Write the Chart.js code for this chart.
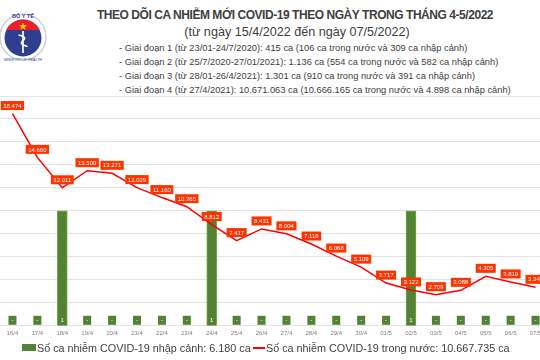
<html lang="vi">
<head>
  <meta charset="UTF-8">
  <title>Covid 4-5/2022</title>
  <script src="https://cdn.jsdelivr.net/npm/chart.js"></script>
  <style>
    body, html {
      margin: 0;
      padding: 0;
      width: 540px;
      height: 360px;
      overflow: hidden;
      background: #ffffff;
      font-family: "Liberation Sans", Arial, sans-serif;
      color: #404040;
    }
    #wrap { position: relative; width: 540px; height: 360px; overflow: hidden; }
    #myChart { position: absolute; left: 0; top: 0; }
    .title {
      position: absolute; left: 60px; width: 470px; text-align: center;
      top: 8px; font-size: 12px; font-weight: bold; letter-spacing: -0.45px; white-space: nowrap;
    }
    .subtitle {
      position: absolute; left: 60px; width: 474px; text-align: center;
      top: 25px; font-size: 12.6px; white-space: nowrap;
    }
    .phase {
      position: absolute; left: 119px; font-size: 9.3px; white-space: nowrap;
    }
    .legend {
      position: absolute; top: 342px; font-size: 10.8px; white-space: nowrap;
    }
    .legend span.box { display: inline-block; width: 14px; height: 7px; background: #548235; margin-right: 1px; vertical-align: 1px; }
    .legend span.ln { display: inline-block; width: 12px; height: 2px; background: #ff0000; margin-right: 1px; vertical-align: 3px; }
    #logo { position: absolute; left: 0px; top: 9px; }
  </style>
</head>
<body>
<div id="wrap">
  <svg id="logo" width="48" height="56" viewBox="0 0 48 56">
    <circle cx="23" cy="28" r="23" fill="#ffffff" stroke="#cfcfdc" stroke-width="1.5"/>
    <circle cx="23" cy="29" r="18.5" fill="#2f3f8f"/>
    <path d="M6.3 21 A18.5 18.5 0 0 1 39.7 21 Z" fill="#e8202a"/>
    <polygon points="23,13.5 24,16.3 27,16.3 24.6,18 25.5,20.8 23,19.1 20.5,20.8 21.4,18 19,16.3 22,16.3" fill="#ffd700"/>
    <line x1="23" y1="22" x2="23" y2="44" stroke="#ffffff" stroke-width="1.7"/>
    <path d="M18.5 26 Q28 28 23 31.5 Q18 35 27.5 37.5" fill="none" stroke="#ffffff" stroke-width="1.4"/>
    <text x="23" y="8.5" font-size="5.5" fill="#2f3f8f" text-anchor="middle" font-weight="bold">BỘ Y TẾ</text>
    <text x="23" y="52" font-size="3.6" fill="#2f3f8f" text-anchor="middle">MINISTRY OF HEALTH</text>
  </svg>
  <div class="title">THEO DÕI CA NHIỄM MỚI COVID-19 THEO NGÀY TRONG THÁNG 4-5/2022</div>
  <div class="subtitle">(từ ngày 15/4/2022 đến ngày 07/5/2022)</div>
  <div class="phase" style="top:43px">- Giai đoạn 1 (từ 23/01-24/7/2020): 415 ca (106 ca trong nước và 309 ca nhập cảnh)</div>
  <div class="phase" style="top:57px">- Giai đoạn 2 (từ 25/7/2020-27/01/2021): 1.136 ca (554 ca trong nước và 582 ca nhập cảnh)</div>
  <div class="phase" style="top:71px">- Giai đoạn 3 (từ 28/01-26/4/2021): 1.301 ca (910 ca trong nước và 391 ca nhập cảnh)</div>
  <div class="phase" style="top:85px">- Giai đoạn 4 (từ 27/4/2021): 10.671.063 ca (10.666.165 ca trong nước và 4.898 ca nhập cảnh)</div>

  <canvas id="myChart" width="548" height="360"></canvas>

  <div class="legend" style="left:22px"><span class="box"></span>Số ca nhiễm COVID-19 nhập cảnh: 6.180 ca</div>
  <div class="legend" style="left:253px"><span class="ln"></span>Số ca nhiễm COVID-19 trong nước: 10.667.735 ca</div>
</div>

<script>
  const days = ['16/4','17/4','18/4','19/4','20/4','21/4','22/4','23/4','24/4','25/4','26/4','27/4','28/4','29/4','30/4',
                '01/5','02/5','03/5','04/5','05/5','06/5','07/5'];
  const importedCases = [0,0,1,0,0,0,0,0,1,0,0,0,0,0,0,0,1,0,0,0,0,0];
  const domesticCases = [18474,14660,12011,13500,13271,12029,11160,10365,8812,7417,8431,8004,7116,6068,5109,
                         3717,3122,2709,3088,4305,3819,3348];

  function fmt(v) {
    return v.toString().replace(/\B(?=(\d{3})+(?!\d))/g, '.');
  }

  // data labels: red boxes for the line, green boxes at the base for the bars
  const labelBoxes = {
    id: 'labelBoxes',
    afterDatasetsDraw(chart) {
      const c = chart.ctx;
      c.save();
      c.font = '6px "Liberation Sans", Arial, sans-serif';
      c.textAlign = 'center';
      c.textBaseline = 'middle';
      const base = chart.scales.y2.getPixelForValue(0);

      chart.getDatasetMeta(0).data.forEach((bar, i) => {
        const v = importedCases[i];
        const txt = v === 0 ? '-' : String(v);
        c.fillStyle = '#548235';
        c.fillRect(bar.x - 4, base - 10, 8, 9);
        c.fillStyle = '#ffffff';
        c.fillText(txt, bar.x, base - 5.5);
      });

      chart.getDatasetMeta(1).data.forEach((pt, i) => {
        const txt = fmt(domesticCases[i]);
        const w = c.measureText(txt).width + 5;
        const cy = pt.y - 8;
        c.fillStyle = '#ff3300';
        c.fillRect(pt.x - w / 2, cy - 4.5, w, 9);
        c.fillStyle = '#ffffff';
        c.fillText(txt, pt.x, cy + 0.5);
      });
      c.restore();
    }
  };

  const ctx = document.getElementById('myChart').getContext('2d');
  const myChart = new Chart(ctx, {
    type: 'bar',
    data: {
      labels: days,
      datasets: [
        {
          label: 'Số ca nhiễm COVID-19 nhập cảnh',
          data: importedCases,
          backgroundColor: '#548235',
          borderColor: '#70ad47',
          borderWidth: 1,
          barThickness: 10,
          yAxisID: 'y2',
          order: 2
        },
        {
          type: 'line',
          label: 'Số ca nhiễm COVID-19 trong nước',
          data: domesticCases,
          borderColor: '#ff0000',
          borderWidth: 1.5,
          pointRadius: 0,
          tension: 0,
          fill: false,
          yAxisID: 'y',
          order: 1
        }
      ]
    },
    options: {
      responsive: false,
      animation: false,
      layout: { padding: { top: 96, bottom: 19, left: 0, right: 0 } },
      scales: {
        x: {
          grid: { display: false, drawTicks: false },
          border: { display: false },
          ticks: {
            color: '#7f7f7f',
            font: { size: 6, family: '"Liberation Sans", Arial, sans-serif' },
            padding: 4,
            maxRotation: 0,
            autoSkip: false
          }
        },
        y: {
          position: 'left',
          min: 0,
          max: 20000,
          ticks: { display: false, stepSize: 2000 },
          grid: { color: '#e3e3e3', drawTicks: false },
          border: { display: false }
        },
        y2: {
          position: 'right',
          min: 0,
          max: 2,
          display: false
        }
      },
      plugins: {
        legend: { display: false },
        tooltip: { enabled: false }
      }
    },
    plugins: [labelBoxes]
  });
</script>
</body>
</html>
